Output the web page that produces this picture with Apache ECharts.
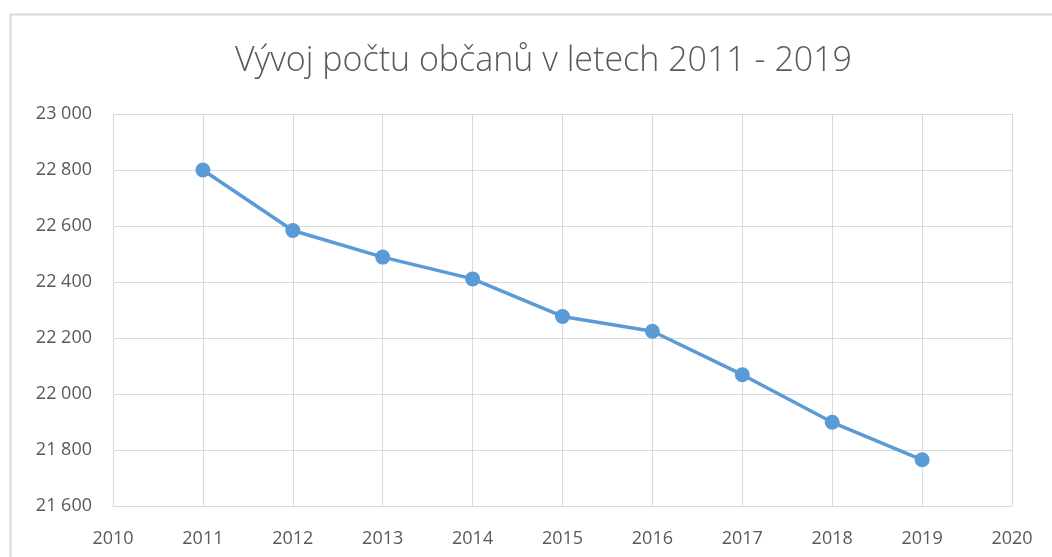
<!DOCTYPE html>
<html>
<head>
<meta charset="utf-8">
<script src="https://cdn.jsdelivr.net/npm/echarts@6/dist/echarts.min.js"></script>
<style>
  html, body { margin: 0; padding: 0; background: #fff; }
  #chart { width: 1052px; height: 557px; }
</style>
</head>
<body>
<div id="chart"></div>
<script>
var years = [2011, 2012, 2013, 2014, 2015, 2016, 2017, 2018, 2019];
var citizens = [22800, 22584, 22489, 22411, 22277, 22224, 22069, 21899, 21765];
var titleText = 'Vývoj počtu občanů v letech 2011 - 2019';

var chart = echarts.init(document.getElementById('chart'));
var gray = '#595959';
var gridColor = '#d9d9d9';

chart.setOption({
  animation: false,
  backgroundColor: '#fff',
  title: {
    text: titleText,
    left: 230,
    top: 39,
    textStyle: {
      fontFamily: 'Open Sans',
      fontWeight: 300,
      fontSize: 34,
      color: gray
    }
  },
  graphic: [{
    type: 'rect',
    shape: { x: 10.5, y: 14.5, width: 1060, height: 600 },
    style: { fill: 'none', stroke: gridColor, lineWidth: 2 },
    silent: true
  }],
  grid: { left: 113, right: 40, top: 114, bottom: 51 },
  xAxis: {
    type: 'value',
    min: 2010,
    max: 2020,
    interval: 1,
    axisLine: { show: true, lineStyle: { color: gridColor, width: 1 } },
    axisTick: { show: false },
    axisLabel: {
      color: gray,
      fontFamily: 'Open Sans',
      fontSize: 18,
      margin: 24,
      formatter: function (v) { return String(v); }
    },
    splitLine: { show: true, lineStyle: { color: gridColor, width: 1 } }
  },
  yAxis: {
    type: 'value',
    min: 21600,
    max: 23000,
    interval: 200,
    axisLine: { show: false },
    axisTick: { show: false },
    axisLabel: {
      color: gray,
      fontFamily: 'Open Sans',
      fontSize: 18,
      margin: 21,
      formatter: function (v) {
        var s = String(v);
        return s.slice(0, s.length - 3) + ' ' + s.slice(-3);
      }
    },
    splitLine: { show: true, lineStyle: { color: gridColor, width: 1 } }
  },
  series: [{
    type: 'line',
    data: years.map(function (y, i) { return [y, citizens[i]]; }),
    symbol: 'circle',
    symbolSize: 15,
    lineStyle: { color: '#5B9BD5', width: 3.5 },
    itemStyle: { color: '#5B9BD5' }
  }]
});
</script>
</body>
</html>
